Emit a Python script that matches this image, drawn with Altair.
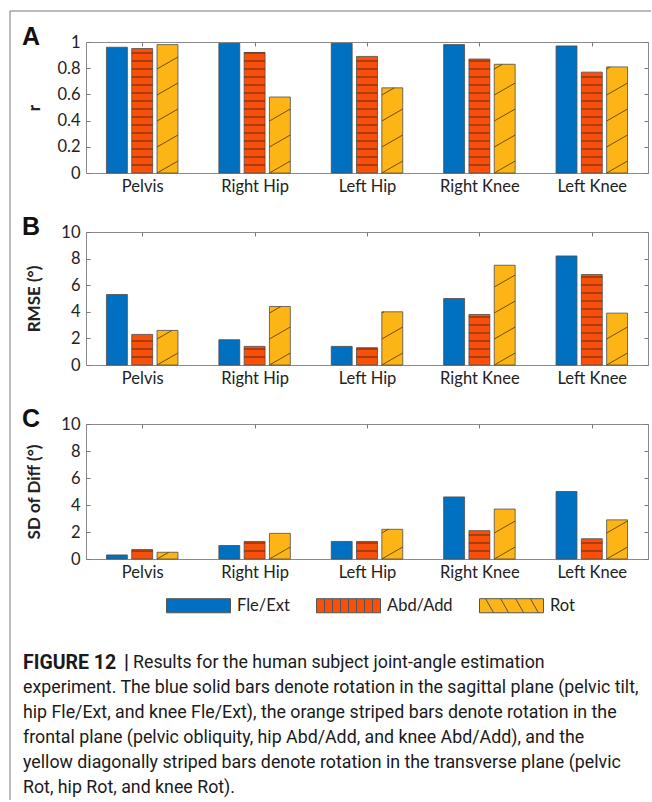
import json
import altair as alt
import pandas as pd

# ---------------- data ----------------
joints = ["Pelvis", "Right Hip", "Left Hip", "Right Knee", "Left Knee"]
series = ["Fle/Ext", "Abd/Add", "Rot"]
colors = ["#0070C0", "#F7500A", "#FDB515"]

r_fle = [0.96, 0.99, 0.99, 0.98, 0.97]
r_abd = [0.95, 0.92, 0.89, 0.87, 0.77]
r_rot = [0.98, 0.58, 0.65, 0.83, 0.81]

rmse_fle = [5.3, 1.9, 1.4, 5.0, 8.2]
rmse_abd = [2.3, 1.4, 1.3, 3.8, 6.8]
rmse_rot = [2.6, 4.4, 4.0, 7.5, 3.9]

sd_fle = [0.3, 1.0, 1.3, 4.6, 5.0]
sd_abd = [0.7, 1.3, 1.3, 2.1, 1.5]
sd_rot = [0.5, 1.9, 2.2, 3.7, 2.9]

r_ticks = [0, 0.2, 0.4, 0.6, 0.8, 1]
deg_ticks = [0, 2, 4, 6, 8, 10]

caption_fig = "FIGURE 12"
caption_bar = "|"
caption_lines = [
    "Results for the human subject joint-angle estimation",
    "experiment. The blue solid bars denote rotation in the sagittal plane (pelvic tilt,",
    "hip Fle/Ext, and knee Fle/Ext), the orange striped bars denote rotation in the",
    "frontal plane (pelvic obliquity, hip Abd/Add, and knee Abd/Add), and the",
    "yellow diagonally striped bars denote rotation in the transverse plane (pelvic",
    "Rot, hip Rot, and knee Rot).",
]

# ---------------- style ----------------
W = 562
AX_FONT = "Lato"
CAP_FONT = "Roboto, sans-serif"
FS = 16.5
BAR_HALF = 0.093
OFFSET = 0.225
H_SPACING_PX = 8.0
D_SPACING_PX = 26.0
D_RISE_PX = 12.0

legend_shapes = [
    "M-1,-0.22H1V0.22H-1Z",
    "M-1,-0.22H1V0.22H-1Z" + "".join(
        "M{:.3f},-0.22V0.22".format(-1 + 0.25 * k) for k in range(1, 8)),
    "M-1,-0.22H1V0.22H-1Z" + "".join(
        "M{:.3f},-0.22L{:.3f},0.22".format(a, a + 0.25) for a in (-0.81, -0.34, 0.13, 0.59)),
]
shape_expr = "datum.value === {} ? {} : (datum.value === {} ? {} : {})".format(
    json.dumps(series[0]), json.dumps(legend_shapes[0]),
    json.dumps(series[1]), json.dumps(legend_shapes[1]), json.dumps(legend_shapes[2]))

label_expr = json.dumps(joints) + "[datum.value]"

shared_legend = alt.Legend(
    orient="none", legendX=80, legendY=531, direction="horizontal", columns=3,
    title=None, symbolSize=4096, symbolStrokeWidth=1, symbolStrokeColor="#555",
    symbolType=alt.ExprRef(expr=shape_expr),
    labelFont=AX_FONT, labelFontSize=FS, labelColor="#222", labelOffset=6,
    columnPadding=24, padding=0, symbolOpacity=1)


def build_panel(letter, ytitle, vals, ticks, fmt, height, extra_layers=()):
    ymax = ticks[-1]
    ppu = height / ymax
    rows, hrows, drows = [], [], []
    for j, s in enumerate(series):
        for i, jn in enumerate(joints):
            v = vals[j][i]
            xc = i + (j - 1) * OFFSET
            xl, xr = xc - BAR_HALF, xc + BAR_HALF
            rows.append({"joint": jn, "series": s, "value": v, "xl": xl, "xr": xr})
            if j == 1:
                hs = H_SPACING_PX / ppu
                k = 1
                while k * hs < v - 0.3 / ppu:
                    hrows.append({"x": xl, "x2": xr, "y": k * hs})
                    k += 1
            if j == 2:
                ds = D_SPACING_PX / ppu
                dr = D_RISE_PX / ppu
                k = 0
                while k * ds < v - 0.5 / ppu:
                    y0 = k * ds
                    y1 = y0 + dr
                    x2 = xr
                    if y1 > v:
                        x2 = xl + (v - y0) / dr * (xr - xl)
                        y1 = v
                    drows.append({"x": xl, "x2": x2, "y": y0, "y2": y1})
                    k += 1
    bars_df = pd.DataFrame(rows)
    hdf = pd.DataFrame(hrows)
    ddf = pd.DataFrame(drows)

    xscale = alt.Scale(domain=[-0.5, 4.5], nice=False, zero=False)
    yscale = alt.Scale(domain=[0, ymax], nice=False)

    bars = alt.Chart(bars_df).mark_bar(stroke="#4d4d4d", strokeWidth=0.8).encode(
        x=alt.X("xl:Q", scale=xscale, axis=alt.Axis(
            orient="bottom", values=list(range(5)), labelExpr=label_expr,
            offset=-4, tickSize=4, domain=False, grid=False, labelPadding=5,
            labelFont=AX_FONT, labelFontSize=FS, labelColor="#222",
            tickColor="#777", title=None)),
        x2="xr:Q",
        y=alt.Y("value:Q", scale=yscale, axis=alt.Axis(
            orient="left", values=ticks, format=fmt, offset=-4, tickSize=4,
            domain=False, grid=False, labelPadding=6, labelFont=AX_FONT,
            labelFontSize=FS, labelColor="#222", tickColor="#777",
            title=ytitle, titleFont=AX_FONT, titleFontSize=17,
            titleFontWeight="bold", titleColor="#222", titleX=-56,
            titleBaseline="middle")),
        y2=alt.datum(0),
        color=alt.Color("series:N", scale=alt.Scale(domain=series, range=colors),
                        legend=shared_legend),
    )

    hatch_h = alt.Chart(hdf).mark_rule(color="#5a2208", strokeWidth=0.9).encode(
        x=alt.X("x:Q", scale=xscale, axis=alt.Axis(
            orient="top", values=list(range(5)), offset=-4, tickSize=4,
            labels=False, domain=False, grid=False, tickColor="#777", title=None)),
        x2="x2:Q",
        y=alt.Y("y:Q", scale=yscale, axis=alt.Axis(
            orient="right", values=ticks, offset=-4, tickSize=4, labels=False,
            domain=False, grid=False, tickColor="#777", title=None)),
    )

    hatch_d = alt.Chart(ddf).mark_rule(color="#5c4410", strokeWidth=0.9).encode(
        x=alt.X("x:Q", scale=xscale, axis=None),
        x2="x2:Q",
        y=alt.Y("y:Q", scale=yscale, axis=None),
        y2="y2:Q",
    )

    letter_mark = alt.Chart(pd.DataFrame({"t": [letter]})).mark_text(
        font="Liberation Sans", fontSize=25, fontWeight="bold", color="#111",
        align="center", baseline="middle").encode(
        x=alt.value(-55), y=alt.value(-5), text="t:N")

    layers = [bars, hatch_h, hatch_d, letter_mark] + list(extra_layers)
    return alt.layer(*layers).properties(width=W, height=height)


# frame lines (decoration) for panel A
one = pd.DataFrame({"a": [0]})
frame_left = alt.Chart(one).mark_rule(color="#777", strokeWidth=1).encode(
    x=alt.value(-76), y=alt.value(-31), y2=alt.value(758))
frame_top = alt.Chart(one).mark_rule(color="#777", strokeWidth=1).encode(
    x=alt.value(-76), x2=alt.value(565), y=alt.value(-31))

# caption (decoration text) placed relative to panel C
cap_layers = [
    alt.Chart(one).mark_text(
        font=CAP_FONT, fontSize=19.5, fontWeight="bold", color="#1a1a1a",
        align="left", baseline="middle").encode(
        x=alt.value(-63), y=alt.value(239), text=alt.value(caption_fig)),
    alt.Chart(one).mark_text(
        font=CAP_FONT, fontSize=19.5, fontWeight="bold", color="#1a1a1a",
        align="left", baseline="middle").encode(
        x=alt.value(38), y=alt.value(239), text=alt.value(caption_bar)),
]
for i, line in enumerate(caption_lines):
    cap_layers.append(alt.Chart(one).mark_text(
        font=CAP_FONT, fontSize=17.8, color="#1a1a1a", align="left",
        baseline="middle").encode(
        x=alt.value(47 if i == 0 else -63), y=alt.value(239 + 25 * i),
        text=alt.value(line)))

panel_a = build_panel("A", "r", [r_fle, r_abd, r_rot], r_ticks, ".1~f", 131,
                      extra_layers=[frame_left, frame_top])
panel_b = build_panel("B", "RMSE (°)", [rmse_fle, rmse_abd, rmse_rot], deg_ticks,
                      "d", 133)
panel_c = build_panel("C", "SD of Diff (°)", [sd_fle, sd_abd, sd_rot], deg_ticks,
                      "d", 135, extra_layers=cap_layers)

chart = alt.VConcatChart(
    vconcat=[panel_a, panel_b, panel_c], spacing=59, bounds="flush",
    padding={"left": 9, "top": 10, "right": 0, "bottom": 0},
    background="white",
).configure_view(stroke="#8a8a8a", strokeWidth=1).resolve_scale(
    x="independent", y="independent")

chart.save("out.html", embed_options={"renderer": "svg", "actions": False})
